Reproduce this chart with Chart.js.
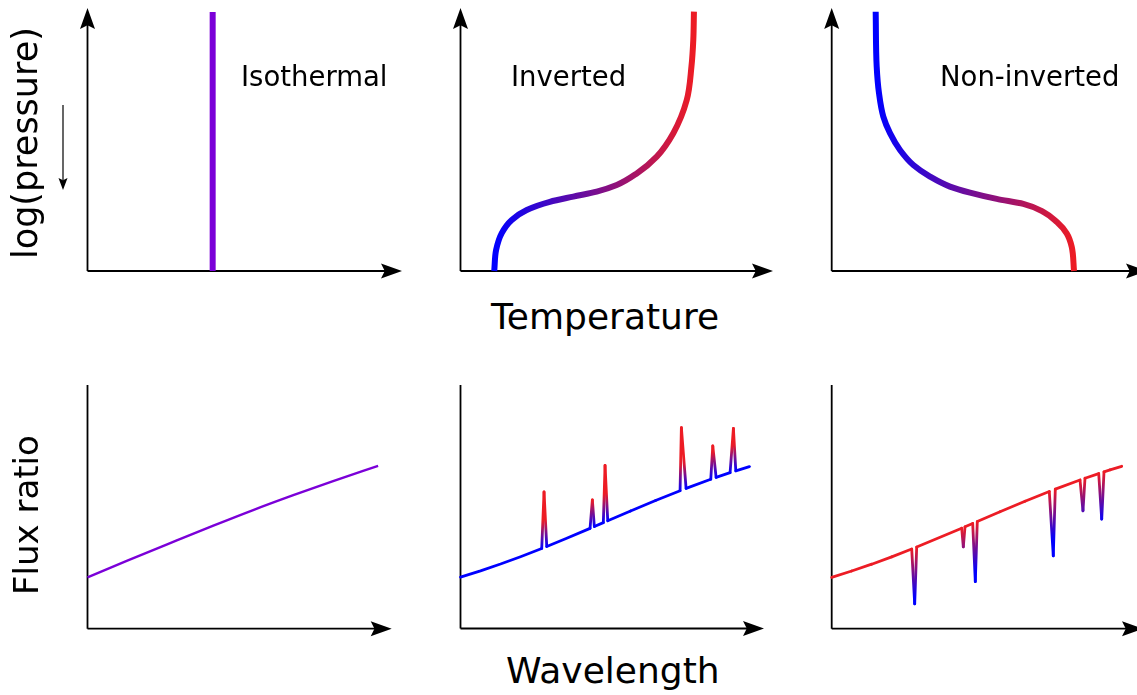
<!DOCTYPE html>
<html>
<head>
<meta charset="utf-8">
<script src="https://cdn.jsdelivr.net/npm/chart.js@4.4.1/dist/chart.umd.min.js"></script>
<style>
    body { margin: 0; background: #fff; }
    #wrap { position: relative; width: 1137px; height: 695px; overflow: hidden; font-family: 'DejaVu Sans', sans-serif; color: #000; }
    canvas { position: absolute; }
    .lbl { position: absolute; white-space: nowrap; line-height: 1; }
    .rot { transform-origin: 0 0; transform: rotate(-90deg); }
</style>
</head>
<body>
<div id="wrap">
    <canvas id="tIso" width="380" height="290" style="left:40px;top:0px"></canvas>
    <canvas id="tInv" width="350" height="290" style="left:440px;top:0px"></canvas>
    <canvas id="tNon" width="350" height="290" style="left:810px;top:0px"></canvas>
    <canvas id="bIso" width="350" height="280" style="left:60px;top:370px"></canvas>
    <canvas id="bInv" width="350" height="280" style="left:440px;top:370px"></canvas>
    <canvas id="bNon" width="350" height="280" style="left:810px;top:370px"></canvas>

    <div class="lbl" style="left:241px;top:62.7px;font-size:27.5px">Isothermal</div>
    <div class="lbl" style="left:511px;top:62.7px;font-size:27.5px">Inverted</div>
    <div class="lbl" style="left:940px;top:62.7px;font-size:27.5px">Non-inverted</div>
    <div class="lbl" style="left:491px;top:299px;font-size:36px">Temperature</div>
    <div class="lbl" style="left:506px;top:653px;font-size:36px">Wavelength</div>
    <div class="lbl rot" style="left:8px;top:259px;font-size:35px">log(pressure)</div>
    <div class="lbl rot" style="left:9px;top:595px;font-size:34px">Flux ratio</div>
</div>

<script>
// --- temperature profiles (x = temperature, y = height / -log p), axis units 0..100
const isoTempX = [39.8, 39.8];
const isoTempY = [0, 98.5];

const invTempX = [10.8, 11.4, 13.2, 16.4, 21.2, 28.6, 36.1, 43.6, 50.0, 56.4, 62.8, 68.1, 72.4, 73.9, 74.5, 74.7];
const invTempY = [0, 8.0, 14.4, 19.4, 23.2, 26.3, 28.3, 30.2, 32.7, 37.1, 43.5, 52.4, 65.0, 77.7, 88.0, 98.6];

const nonTempX = [76.85, 76.12, 74.53, 71.36, 67.11, 60.77, 52.33, 43.86, 37.52, 31.18, 25.88,
                  21.66, 18.49, 16.37, 15.0, 14.27, 13.95];
const nonTempY = [0, 9.2, 14.3, 18.7, 22.5, 25.5, 27.4, 29.8, 32.1, 35.9, 40.3,
                  46.0, 52.4, 58.7, 67.6, 77.7, 98.6];

// --- spectra (x = wavelength, y = flux ratio), y axis units 0..100
const isoWaveX = [0, 12.9, 26.0, 41.4, 54.5, 67.7, 80.8, 95.6];
const isoFlux  = [21.1, 27.8, 34.5, 42.3, 48.7, 54.8, 60.6, 66.8];

const invWaveX = [0, 6.58, 13.16, 19.74, 26.71, 27.47, 28.36, 34.54, 42.6, 43.36, 44.01,
                  46.97, 47.53, 48.42, 55.92, 64.14, 72.2, 72.63, 74.18, 82.3, 82.96, 84.05,
                  88.65, 89.74, 90.53, 95.0];
const invFlux  = [21.09, 23.67, 26.47, 29.48, 32.87, 56.1, 33.7, 36.88, 41.13, 52.8, 41.89,
                  43.48, 67.0, 44.26, 48.26, 52.56, 56.6, 82.5, 57.55, 61.3, 75.0, 62.05,
                  64.0, 82.2, 64.76, 66.49];

const nonWaveX = [0, 6.58, 13.16, 19.74, 26.32, 27.3, 27.96, 42.76, 43.29, 43.85, 46.38,
                  47.24, 47.89, 55.36, 63.59, 71.58, 72.89, 73.55, 81.68, 82.66, 83.32,
                  87.83, 88.82, 89.57, 91.55, 95.39];
const nonFlux  = [21.09, 23.67, 26.47, 29.48, 32.68, 10.2, 33.5, 41.22, 33.6, 41.8, 43.16,
                  19.3, 43.97, 47.96, 52.27, 56.28, 29.9, 57.25, 61.01, 48.4, 61.74,
                  63.66, 45.0, 64.37, 65.16, 66.64];

const BLUE = [0, 0, 255];
const RED = [237, 28, 36];
const PURPLE = '#7b00d8';

function mix(t) {
    t = Math.min(1, Math.max(0, t));
    const c = BLUE.map((b, i) => Math.round(b + (RED[i] - b) * t));
    return `rgb(${c[0]},${c[1]},${c[2]})`;
}

function arrowHead(c, x, y, dir, len, half) {
    c.beginPath();
    if (dir === 'right') {
        c.moveTo(x, y);
        c.lineTo(x - len, y - half);
        c.lineTo(x - len * 0.82, y);
        c.lineTo(x - len, y + half);
    } else if (dir === 'up') {
        c.moveTo(x, y);
        c.lineTo(x - half, y + len);
        c.lineTo(x, y + len * 0.82);
        c.lineTo(x + half, y + len);
    } else {
        c.moveTo(x, y);
        c.lineTo(x - half, y - len);
        c.lineTo(x, y - len * 0.82);
        c.lineTo(x + half, y - len);
    }
    c.closePath();
    c.fill();
}

// axes with arrow heads, drawn under the data
const axesArrows = {
    id: 'axesArrows',
    beforeDatasetsDraw(chart, args, opts) {
        const { ctx: c, chartArea: a } = chart;
        c.save();
        c.strokeStyle = '#000';
        c.fillStyle = '#000';
        c.lineWidth = 1.8;
        c.beginPath();
        c.moveTo(a.left, a.bottom);
        c.lineTo(a.right - 16, a.bottom);
        c.moveTo(a.left, a.bottom);
        c.lineTo(a.left, opts.yArrow ? a.top + 16 : a.top);
        c.stroke();
        arrowHead(c, a.right, a.bottom, 'right', 21, 7.5);
        if (opts.yArrow) arrowHead(c, a.left, a.top, 'up', 21, 7.5);
        if (opts.pressureArrow) {
            const x = a.left - 24.5;
            c.lineWidth = 1.2;
            c.beginPath();
            c.moveTo(x, a.top + 97);
            c.lineTo(x, a.top + 172);
            c.stroke();
            arrowHead(c, x, a.top + 182, 'down', 12, 4.5);
        }
        c.restore();
    }
};

function tempGradient(ctx) {
    const chart = ctx.chart;
    const xs = ctx.dataset.data.map(p => p.x);
    const sx = chart.scales.x;
    if (!sx || !chart.chartArea) return mix(0.5);
    const x0 = sx.getPixelForValue(Math.min(...xs));
    const x1 = sx.getPixelForValue(Math.max(...xs));
    if (!Number.isFinite(x0) || !Number.isFinite(x1)) return mix(0.5);
    const g = chart.ctx.createLinearGradient(x0, 0, x1, 0);
    g.addColorStop(0, mix(0));
    g.addColorStop(1, mix(1));
    return g;
}

// colour level of each spectrum point: continuum keeps base, line tips move away from it
function lineLevels(ys, base, scale) {
    const dir = base === 0 ? 1 : -1;
    return ys.map((y, i) => {
        if (i === 0 || i === ys.length - 1) return base;
        const dev = (y - (ys[i - 1] + ys[i + 1]) / 2) * dir;
        return base + dir * Math.max(0, dev) / scale;
    });
}

function makePanel(id, xs, ys, pad, style) {
    const data = xs.map((x, i) => ({ x, y: ys[i] }));
    const ds = {
        data,
        borderWidth: style.width,
        borderColor: style.color,
        pointRadius: 0,
        tension: style.tension || 0,
        cubicInterpolationMode: style.smooth ? 'monotone' : 'default',
        fill: false,
        clip: false,
        borderCapStyle: style.cap || 'butt',
        borderJoinStyle: 'round'
    };
    if (style.levels) {
        const ts = style.levels;
        ds.segment = {
            borderColor: seg => {
                const t0 = ts[seg.p0DataIndex], t1 = ts[seg.p1DataIndex];
                if (t0 === t1) return mix(t0);
                const p0 = seg.p0, p1 = seg.p1;
                if (![p0.x, p0.y, p1.x, p1.y].every(Number.isFinite)) return mix(t0);
                const g = seg.chart.ctx.createLinearGradient(p0.x, p0.y, p1.x, p1.y);
                for (let k = 0; k <= 10; k++) g.addColorStop(k / 10, mix(t0 + (t1 - t0) * k / 10));
                return g;
            }
        };
    }
    return new Chart(document.getElementById(id), {
        type: 'line',
        data: { datasets: [ds] },
        options: {
            responsive: false,
            animation: false,
            devicePixelRatio: 1,
            indexAxis: style.indexAxis || 'x',
            layout: { padding: pad },
            scales: {
                x: { type: 'linear', min: 0, max: style.xMax || 100, display: false },
                y: { type: 'linear', min: 0, max: 100, display: false }
            },
            plugins: {
                legend: { display: false },
                tooltip: { enabled: false },
                axesArrows: style.axes
            }
        },
        plugins: [axesArrows]
    });
}

// top row: temperature profiles (smoothed as temperature against height)
makePanel('tIso', isoTempX, isoTempY, { left: 47.5, top: 8, right: 18, bottom: 19 },
    { width: 6, color: PURPLE, axes: { yArrow: true, pressureArrow: true } });
makePanel('tInv', invTempX, invTempY, { left: 20.5, top: 8, right: 17, bottom: 19 },
    { width: 6, color: tempGradient, smooth: true, indexAxis: 'y', axes: { yArrow: true } });
makePanel('tNon', nonTempX, nonTempY, { left: 21.7, top: 8, right: 13, bottom: 19 },
    { width: 6, color: tempGradient, smooth: true, indexAxis: 'y', axes: { yArrow: true } });

// bottom row: emission spectra
makePanel('bIso', isoWaveX, isoFlux, { left: 27.5, top: 15, right: 18.3, bottom: 21.3 },
    { width: 2.4, color: PURPLE, smooth: true, xMax: 100.07, axes: { yArrow: false } });
makePanel('bInv', invWaveX, invFlux, { left: 20.5, top: 15, right: 26, bottom: 21.5 },
    { width: 2.8, color: mix(0), cap: 'round', xMax: 99.8, levels: lineLevels(invFlux, 0, 11), axes: { yArrow: false } });
makePanel('bNon', nonWaveX, nonFlux, { left: 21.7, top: 15, right: 17, bottom: 21.3 },
    { width: 2.8, color: mix(1), cap: 'round', xMax: 102.4, levels: lineLevels(nonFlux, 1, 20), axes: { yArrow: false } });
</script>
</body>
</html>
